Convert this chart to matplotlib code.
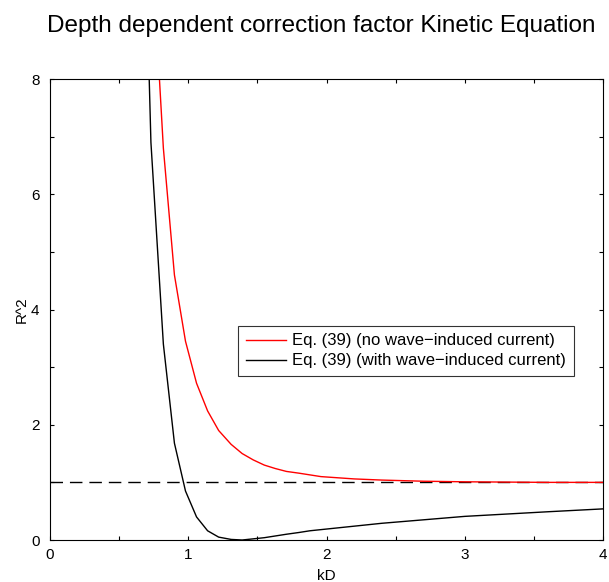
import numpy as np
import matplotlib.pyplot as plt
from matplotlib.ticker import MultipleLocator

plt.rcParams['font.family'] = ['Liberation Sans', 'DejaVu Sans']

# kD sample points and R^2 values
kd = [0.65, 0.73, 0.82, 0.90, 0.98, 1.06, 1.14, 1.22, 1.31, 1.39, 1.47, 1.55,
      1.63, 1.71, 1.80, 1.88, 1.96, 2.2, 2.4, 2.7, 3.0, 3.3, 3.6, 4.0]
r2_no_current = [14.0, 10.6, 6.8, 4.6, 3.45, 2.72, 2.24, 1.90, 1.66, 1.50, 1.39, 1.30,
                 1.24, 1.19, 1.16, 1.13, 1.10, 1.06, 1.04, 1.02, 1.01, 1.005, 1.0, 1.0]
r2_with_current = [14.0, 6.9, 3.4, 1.68, 0.85, 0.40, 0.16, 0.05, 0.01, 0.0, 0.02, 0.04,
                   0.07, 0.10, 0.13, 0.16, 0.18, 0.24, 0.29, 0.35, 0.41, 0.45, 0.49, 0.54]
label_no = 'Eq. (39) (no wave\u2212induced current)'
label_with = 'Eq. (39) (with wave\u2212induced current)'
title = 'Depth dependent correction factor Kinetic Equation'

fig = plt.figure(figsize=(6.09, 5.82), dpi=100)
ax = fig.add_axes([50/609, 42/582, 553/609, 461/582])

ax.axhline(1.0, color='k', lw=1, ls=(0, (9, 5)))
ax.plot(kd, r2_no_current, color='#ff0000', lw=1, label=label_no)
ax.plot(kd, r2_with_current, color='k', lw=1, label=label_with)

ax.set_xlim(0, 4)
ax.set_ylim(0, 8)
ax.xaxis.set_major_locator(MultipleLocator(1))
ax.xaxis.set_minor_locator(MultipleLocator(0.5))
ax.yaxis.set_major_locator(MultipleLocator(2))
ax.yaxis.set_minor_locator(MultipleLocator(1))
ax.tick_params(which='both', direction='in', top=True, right=True,
               length=3, width=0.8, labelsize=11)
ax.tick_params(axis='x', pad=5.5)
ax.tick_params(axis='y', pad=7.5)

ax.set_xlabel('kD', fontsize=11, labelpad=5)
ax.set_ylabel('R^2', fontsize=11, labelpad=2)
fig.text(0.527, 1 - 32/582, title, fontsize=17.5, ha='center', va='baseline')

leg = ax.legend(loc='lower left', bbox_to_anchor=(0.34, 0.356), fontsize=12,
                frameon=True, fancybox=False, handlelength=2.4, handletextpad=0.4,
                borderpad=0.45, labelspacing=0.3, borderaxespad=0)
leg.get_frame().set_edgecolor('k')
leg.get_frame().set_linewidth(0.8)

plt.savefig('out.png', dpi=100)
